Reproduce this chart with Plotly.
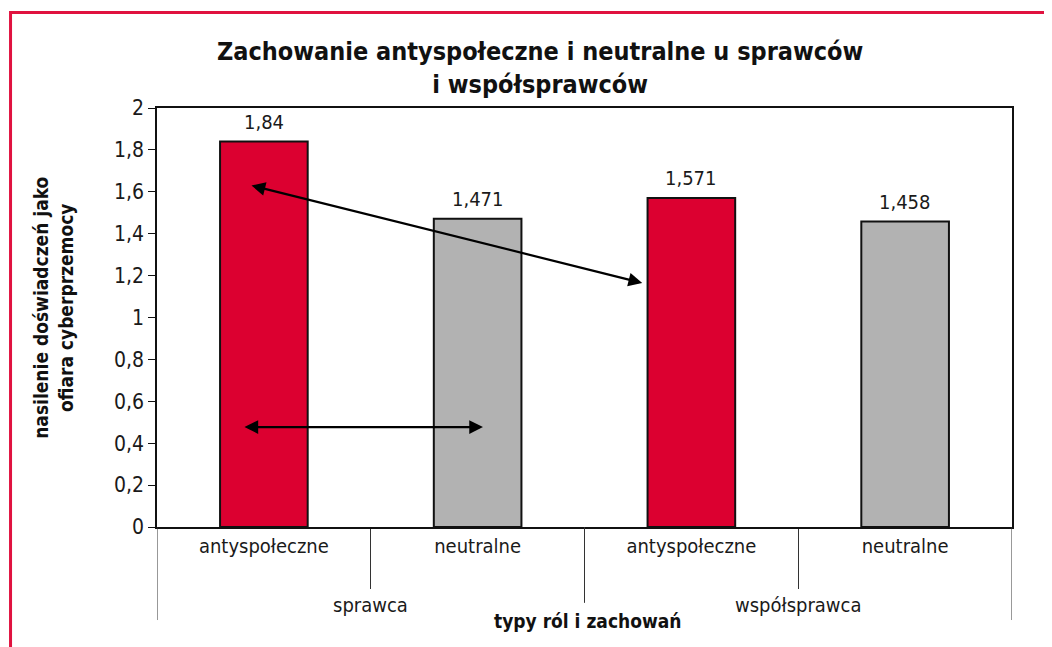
import plotly.graph_objects as go

# ---- data ----
groups = ["sprawca", "sprawca", "współsprawca", "współsprawca"]
behaviours = ["antyspołeczne", "neutralne", "antyspołeczne", "neutralne"]
values = [1.84, 1.471, 1.571, 1.458]
value_labels = ["1,84", "1,471", "1,571", "1,458"]
bar_colors = ["#DC0030", "#B2B2B2", "#DC0030", "#B2B2B2"]
y_ticks = [0, 0.2, 0.4, 0.6, 0.8, 1, 1.2, 1.4, 1.6, 1.8, 2]
y_ticktext = ["0", "0,2", "0,4", "0,6", "0,8", "1", "1,2", "1,4", "1,6", "1,8", "2"]

# comparison arrows (category index, value)
arrow_diag = [(-0.065, 1.632), (1.77, 1.165)]
arrow_horiz = [(-0.098, 0.477), (1.025, 0.477)]

FONT = "DejaVu Sans Condensed, Liberation Sans Narrow, Arial Narrow, sans-serif"
INK = "#1a1a1a"

xpos = list(range(len(behaviours)))

fig = go.Figure()
fig.add_trace(go.Bar(
    x=xpos,
    y=values,
    marker=dict(color=bar_colors, line=dict(color="#111111", width=2)),
    showlegend=False,
    width=0.41,
    hoverinfo="y",
))

annotations = []
# value labels above the bars
for xi, v, lab in zip(xpos, values, value_labels):
    annotations.append(dict(
        x=xi, y=v, xref="x", yref="y", text=lab, showarrow=False,
        yanchor="bottom", yshift=6, font=dict(size=20, family=FONT, color=INK),
    ))

# group labels (second level of the category axis)
group_names = []
for g in groups:
    if g not in group_names:
        group_names.append(g)
for g in group_names:
    idx = [i for i, gg in enumerate(groups) if gg == g]
    annotations.append(dict(
        x=sum(idx) / len(idx), y=-0.186, xref="x", yref="paper", text=g,
        showarrow=False, yanchor="middle", font=dict(size=20, family=FONT, color=INK),
    ))

# arrows
for arr in (arrow_diag, arrow_horiz):
    (x0, y0), (x1, y1) = arr
    annotations.append(dict(
        x=x1, y=y1, ax=x0, ay=y0, xref="x", yref="y", axref="x", ayref="y",
        showarrow=True, arrowhead=2, arrowside="end+start", arrowsize=1.25,
        arrowwidth=2.2, arrowcolor="#000000", text="",
        startstandoff=0, standoff=0,
    ))

annotations.append(dict(
    text="Zachowanie antyspołeczne i neutralne u sprawców<br>i współsprawców",
    xref="paper", yref="paper", x=0.448, y=1.0955,
    showarrow=False, font=dict(size=25, family=FONT, color="#111111", weight="bold"),
    xanchor="center", yanchor="middle",
))
annotations.append(dict(
    text="nasilenie doświadczeń jako<br>ofiara cyberprzemocy",
    xref="paper", yref="paper", x=-0.121, y=0.522, textangle=-90,
    showarrow=False, font=dict(size=19, family=FONT, color="#111111", weight="bold"),
    xanchor="center", yanchor="middle",
))
annotations.append(dict(
    text="typy ról i zachowań",
    xref="paper", yref="paper", x=0.504, y=-0.224,
    showarrow=False, font=dict(size=19, family=FONT, color="#111111", weight="bold"),
    xanchor="center", yanchor="middle",
))

# group dividers below the axis
n = len(groups)
boundaries = [-0.5] + [i + 0.5 for i in range(n - 1) if groups[i] != groups[i + 1]] + [n - 0.5]
shapes = []
for b in boundaries:
    outer = b in (-0.5, n - 0.5)
    shapes.append(dict(
        type="line", xref="x", yref="paper", x0=b, x1=b, y0=0,
        y1=-0.222 if outer else -0.181,
        line=dict(color="#333333", width=1),
    ))

shapes.append(dict(
    type="rect", xref="paper", yref="paper",
    x0=-0.1713, y0=-0.40, x1=1.10, y1=1.228,
    line=dict(color="#E0123F", width=3), fillcolor="rgba(0,0,0,0)", layer="below",
))

inner_bounds = [i + 0.5 for i in range(n - 1) if groups[i] == groups[i + 1]]

fig.update_layout(
    width=1044, height=639,
    margin=dict(l=149, r=40, t=100, b=120),
    paper_bgcolor="white", plot_bgcolor="white",
    font=dict(family=FONT, color=INK, size=20),
    xaxis=dict(
        range=[-0.5, n - 0.5],
        tickvals=xpos, ticktext=behaviours,
        showline=True, linecolor="#111111", linewidth=1.5, mirror=True,
        ticks="",
        minor=dict(tickvals=inner_bounds, ticks="outside", ticklen=60,
                   tickcolor="#333333", tickwidth=1, showgrid=False),
        tickfont=dict(size=20, family=FONT, color=INK),
        showgrid=False, zeroline=False,
    ),
    yaxis=dict(
        range=[0, 2], tickvals=y_ticks, ticktext=y_ticktext,
        showline=True, linecolor="#111111", linewidth=1.5, mirror=True,
        ticks="outside", ticklen=7, tickcolor="#111111",
        tickfont=dict(size=21, family=FONT, color=INK),
        showgrid=False, zeroline=False,
    ),
    annotations=annotations,
    shapes=shapes,
)

fig.write_html("out.html")
